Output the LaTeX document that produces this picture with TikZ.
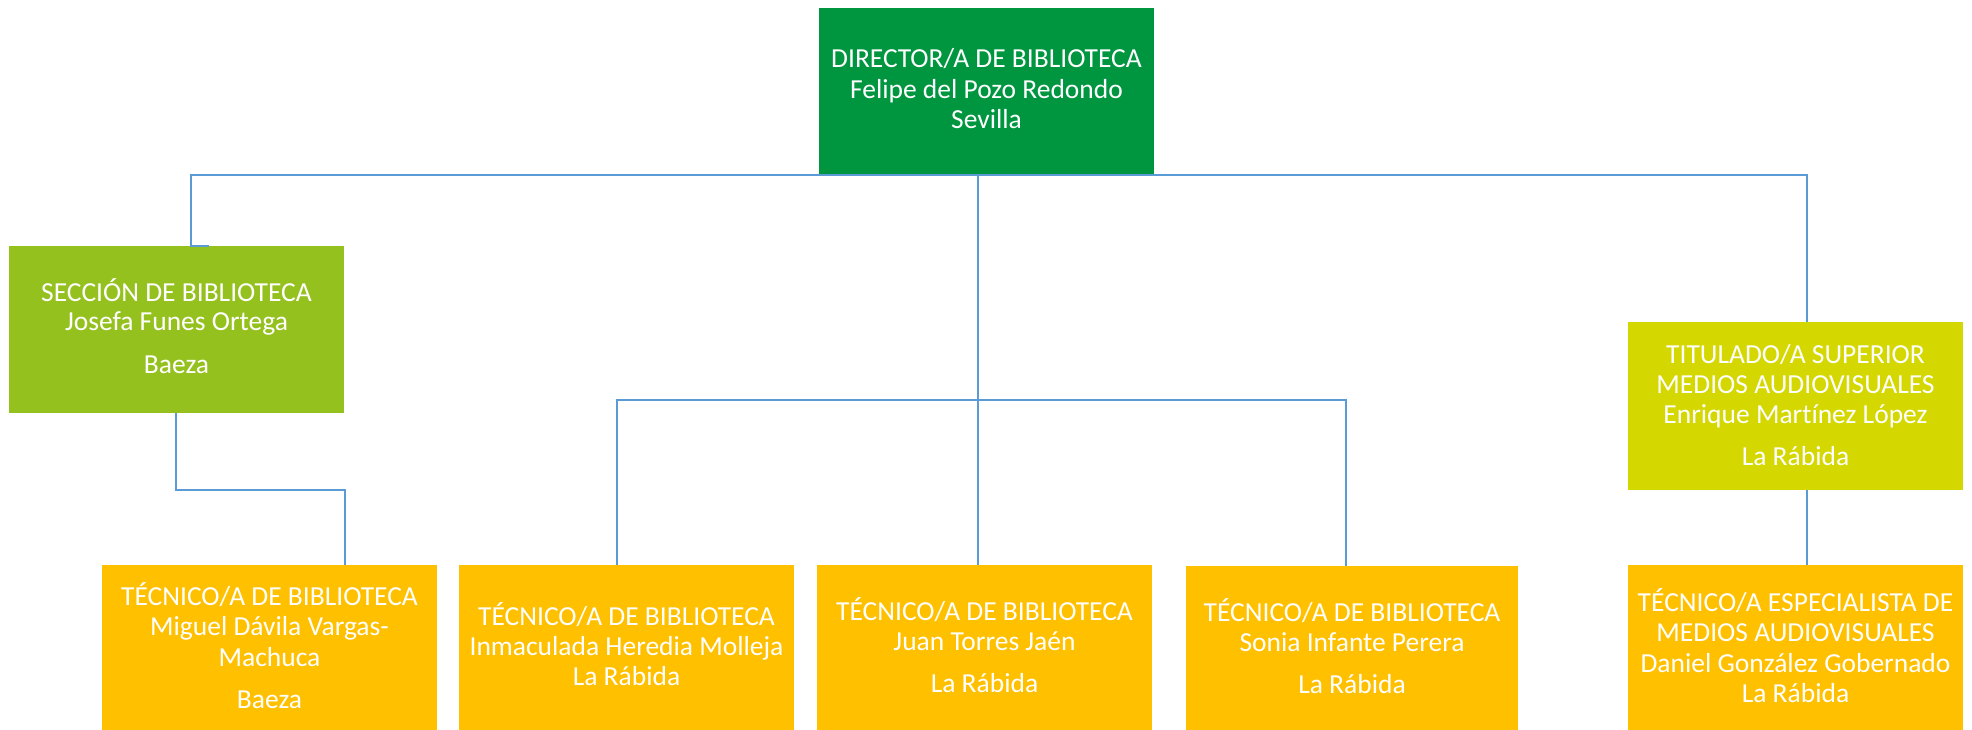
\documentclass[tikz,border=0pt]{standalone}
\usepackage{fontspec}
\setmainfont{Carlito}[Ligatures={NoCommon}]
\definecolor{dirgreen}{RGB}{0,150,64}
\definecolor{secgreen}{RGB}{149,193,31}
\definecolor{titlime}{RGB}{212,215,0}
\definecolor{tecorange}{RGB}{255,192,0}
\definecolor{connblue}{RGB}{91,155,213}
\begin{document}
\begin{tikzpicture}[x=1pt,y=-1pt,
  box/.style={draw=none,inner sep=0,outer sep=0,anchor=north west},
  txt/.style={text=white,inner sep=0,anchor=base,font=\fontsize{27.5}{33}\selectfont},
  conn/.style={draw=connblue,line width=1.6pt}]
\useasboundingbox (0,0) rectangle (1972,730);
% boxes
\node[box,fill=dirgreen,minimum width=335pt,minimum height=167pt] (dir) at (819,8) {};
\node[box,fill=secgreen,minimum width=335pt,minimum height=167pt] (sec) at (9,246) {};
\node[box,fill=titlime,minimum width=335pt,minimum height=168pt] (tit) at (1628,322) {};
\node[box,fill=tecorange,minimum width=335pt,minimum height=165pt] (mig) at (102,565) {};
\node[box,fill=tecorange,minimum width=335pt,minimum height=165pt] (inm) at (459,565) {};
\node[box,fill=tecorange,minimum width=335pt,minimum height=165pt] (jua) at (817,565) {};
\node[box,fill=tecorange,minimum width=332pt,minimum height=164pt] (son) at (1186,566) {};
\node[box,fill=tecorange,minimum width=335pt,minimum height=165pt] (dan) at (1628,565) {};
% texts
\node[txt] (dir1) at (986.5,68) {DIRECTOR/A DE BIBLIOTECA};
\node[txt] (dir2) at (986.5,99) {Felipe del Pozo Redondo};
\node[txt] (dir3) at (986.5,129) {Sevilla};
\node[txt] (sec1) at (176.5,301) {SECCIÓN DE BIBLIOTECA};
\node[txt] (sec2) at (176.5,330) {Josefa Funes Ortega};
\node[txt] (sec3) at (176.5,373) {Baeza};
\node[txt] (tit1) at (1795.5,363) {TITULADO/A SUPERIOR};
\node[txt] (tit2) at (1795.5,393) {MEDIOS AUDIOVISUALES};
\node[txt] (tit3) at (1795.5,423) {Enrique Martínez López};
\node[txt] (tit4) at (1795.5,465) {La Rábida};
\node[txt] (mig1) at (269.5,605) {TÉCNICO/A DE BIBLIOTECA};
\node[txt] (mig2) at (269.5,635) {Miguel Dávila Vargas-};
\node[txt] (mig3) at (269.5,666) {Machuca};
\node[txt] (mig4) at (269.5,708) {Baeza};
\node[txt] (inm1) at (626.5,625) {TÉCNICO/A DE BIBLIOTECA};
\node[txt] (inm2) at (626.5,655) {Inmaculada Heredia Molleja};
\node[txt] (inm3) at (626.5,685) {La Rábida};
\node[txt] (jua1) at (984.5,620) {TÉCNICO/A DE BIBLIOTECA};
\node[txt] (jua2) at (984.5,650) {Juan Torres Jaén};
\node[txt] (jua3) at (984.5,692) {La Rábida};
\node[txt] (son1) at (1352,621) {TÉCNICO/A DE BIBLIOTECA};
\node[txt] (son2) at (1352,651) {Sonia Infante Perera};
\node[txt] (son3) at (1352,693) {La Rábida};
\node[txt] (dan1) at (1795.5,611) {TÉCNICO/A ESPECIALISTA DE};
\node[txt] (dan2) at (1795.5,641) {MEDIOS AUDIOVISUALES};
\node[txt] (dan3) at (1795.5,672) {Daniel González Gobernado};
\node[txt] (dan4) at (1795.5,702) {La Rábida};
% connectors
\coordinate (hub) at (978,175);
\coordinate (bus) at (978,400);
\draw[conn] (hub) -| ([xshift=14.5pt]sec.north) -- ([xshift=32.5pt]sec.north);
\draw[conn] (hub) -| ([xshift=11.5pt]tit.north);
\draw[conn] (hub) -- ([xshift=-6.5pt]jua.north);
\draw[conn] ([xshift=-9.5pt]inm.north) |- (bus) -| ([xshift=-6pt]son.north);
\draw[conn] ([xshift=-0.5pt]sec.south) -- ++(0,77) -| ([xshift=75.5pt]mig.north);
\draw[conn] ([xshift=11.5pt]tit.south) -- ([xshift=11.5pt]dan.north);
\end{tikzpicture}
\end{document}
